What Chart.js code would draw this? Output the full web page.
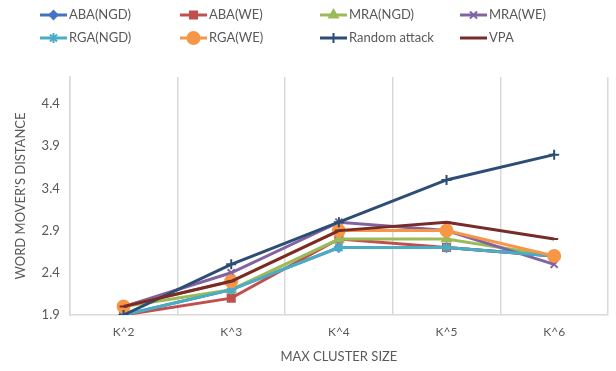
<!DOCTYPE html>
<html>
<head>
<meta charset="utf-8">
<script src="https://cdn.jsdelivr.net/npm/chart.js@4"></script>
<style>
  html, body { margin: 0; padding: 0; background: #fff; }
  #wrap { width: 616px; height: 371px; position: relative; }
</style>
</head>
<body>
<div id="wrap"><canvas id="wmdChart"></canvas></div>
<script>
// chart values
const categories = ["K^2", "K^3", "K^4", "K^5", "K^6"];
const seriesNames = ["ABA(NGD)", "ABA(WE)", "MRA(NGD)", "MRA(WE)", "RGA(NGD)", "RGA(WE)", "Random attack", "VPA"];
const abaNgd = [1.9, 2.2, 2.7, 2.7, 2.6];
const abaWe = [1.9, 2.1, 2.8, 2.7, 2.6];
const mraNgd = [2.0, 2.2, 2.8, 2.8, 2.6];
const mraWe = [2.0, 2.4, 3.0, 2.9, 2.5];
const rgaNgd = [1.9, 2.2, 2.7, 2.7, 2.6];
const rgaWe = [2.0, 2.3, 2.9, 2.9, 2.6];
const randomAttack = [1.9, 2.5, 3.0, 3.5, 3.8];
const vpa = [2.0, 2.3, 2.9, 3.0, 2.8];
const yTicks = [1.9, 2.4, 2.9, 3.4, 3.9, 4.4];

const colors = ["#4472C4", "#C0504D", "#9BBB59", "#8064A2", "#4BACC6", "#F79646", "#2C4D75", "#772C2A"];
const markers = ["rectRot", "rect", "triangle", "crossRot", "star", "circle", "cross", "line"];
const radii = [4, 5, 5, 5, 5, 6, 5, 4];
const values = [abaNgd, abaWe, mraNgd, mraWe, rgaNgd, rgaWe, randomAttack, vpa];

const textColor = "#595959";
const fontFamily = "Lato, 'Open Sans', sans-serif";

// legend drawn in a fixed grid like the original
const gridLegend = {
    id: "gridLegend",
    afterDraw(chart) {
        const ctx = chart.ctx;
        chart.data.datasets.forEach((ds, i) => {
            const x = 40 + (i % 4) * 140;
            const y = i < 4 ? 15 : 38;
            ctx.save();
            ctx.strokeStyle = ds.borderColor;
            ctx.fillStyle = ds.borderColor;
            ctx.lineWidth = 3;
            ctx.beginPath();
            ctx.moveTo(x, y);
            ctx.lineTo(x + 27, y);
            ctx.stroke();
            ctx.lineWidth = 2;
            Chart.helpers.drawPoint(ctx, {
                pointStyle: ds.pointStyle,
                radius: ds.pointRadius,
                rotation: 0,
                borderWidth: 2
            }, x + 13.5, y);
            ctx.fillStyle = textColor;
            ctx.font = "13px " + fontFamily;
            ctx.textBaseline = "middle";
            ctx.textAlign = "left";
            ctx.fillText(ds.label, x + 29, y);
            ctx.restore();
        });
    }
};

new Chart(document.getElementById("wmdChart"), {
    type: "line",
    data: {
        labels: categories,
        datasets: seriesNames.map((name, i) => ({
            label: name,
            data: values[i],
            order: seriesNames.length - i,
            borderColor: colors[i],
            backgroundColor: colors[i],
            borderWidth: 3,
            pointStyle: markers[i],
            pointRadius: radii[i],
            pointBorderWidth: 2,
            pointHoverRadius: radii[i],
            tension: 0
        }))
    },
    plugins: [gridLegend],
    options: {
        responsive: true,
        maintainAspectRatio: false,
        animation: false,
        layout: { padding: { top: 77, left: 13, right: 1, bottom: 6 } },
        plugins: {
            legend: { display: false },
            tooltip: { enabled: false }
        },
        scales: {
            x: {
                offset: true,
                grid: {
                    offset: true,
                    color: "#D9D9D9",
                    lineWidth: 1.5,
                    drawTicks: false
                },
                border: { color: "#D9D9D9", width: 1.5 },
                ticks: {
                    color: textColor,
                    font: { family: fontFamily, size: 12 },
                    padding: 10
                },
                title: {
                    display: true,
                    text: "MAX CLUSTER SIZE",
                    color: textColor,
                    font: { family: fontFamily, size: 13 },
                    padding: { top: 0, bottom: 0 }
                }
            },
            y: {
                min: 1.9,
                max: 4.72,
                afterBuildTicks(scale) {
                    scale.ticks = yTicks.map(v => ({ value: v }));
                },
                grid: { display: false, drawTicks: false },
                border: { color: "#D9D9D9", width: 1.5 },
                ticks: {
                    color: textColor,
                    font: { family: fontFamily, size: 13 },
                    padding: 10,
                    callback: v => v.toFixed(1)
                },
                title: {
                    display: true,
                    text: "WORD MOVER'S DISTANCE",
                    color: textColor,
                    font: { family: fontFamily, size: 13 },
                    padding: { top: 0, bottom: 3 }
                }
            }
        }
    }
});
</script>
</body>
</html>
